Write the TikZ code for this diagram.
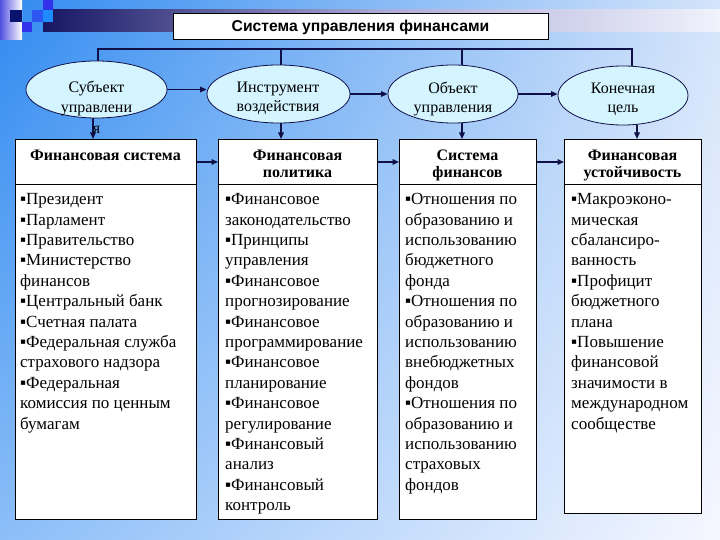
\documentclass[tikz,border=0pt]{standalone}
\usepackage{fontspec}
\setmainfont{Liberation Serif}
\newfontfamily\titlefont{Liberation Sans}
\usetikzlibrary{arrows.meta,shapes.geometric,calc,shadings}
\definecolor{navy}{RGB}{16,16,72}
\definecolor{ellfill}{RGB}{212,244,255}
\definecolor{bgUL}{RGB}{48,138,240}
\definecolor{bgUR}{RGB}{212,228,250}
\definecolor{bgLL}{RGB}{140,190,248}
\definecolor{bgLR}{RGB}{246,247,255}
\definecolor{barL}{RGB}{22,22,100}
\definecolor{barM}{RGB}{170,170,215}
\definecolor{barR}{RGB}{240,242,252}
\definecolor{sqNavy}{RGB}{10,20,110}
\definecolor{sqBlue}{RGB}{50,50,235}
\definecolor{sqBlueB}{RGB}{45,85,240}
\definecolor{sqCyan}{RGB}{30,140,255}
\definecolor{stripL}{RGB}{80,80,225}
\newcommand\firstrule[1]{\rule{0pt}{#1}}
\begin{document}
\begin{tikzpicture}[x=1bp,y=-1bp,
  conn/.style={draw=navy,line width=1.5bp},
  arr/.style={conn,-{Triangle[length=6.5bp,width=5.5bp]}},
  ell/.style={ellipse,draw=navy,fill=ellfill,line width=0.8bp,inner sep=0},
  panel/.style={draw=black,fill=white,line width=1bp,anchor=north west,inner sep=0},
  body/.style={anchor=north west,inner sep=0,align=left,font=\fontsize{17bp}{20.4bp}\selectfont},
  head/.style={anchor=north,inner sep=0,align=center,font=\bfseries\fontsize{16bp}{17.5bp}\selectfont},
  etext/.style={inner sep=0,align=center,font=\fontsize{16bp}{19bp}\selectfont},
]
% background
\shade[upper left=bgUL,upper right=bgUR,lower left=bgLL,lower right=bgLR] (0,0) rectangle (720,540);
\useasboundingbox (0,0) rectangle (720,540);
% decoration top-left
\shade[left color=stripL,right color=white] (0,0) rectangle (22,40);
\shade[left color=barL,right color=barR,middle color=barM] (43,10) rectangle (720,32);
\fill[sqNavy] (10,10) rectangle (22,22);
\fill[sqBlue] (22,22) rectangle (32,32);
\fill[sqBlueB] (32,10) rectangle (43,22);
\fill[sqBlue] (43,0) rectangle (53,10);
\fill[sqCyan] (43,10) rectangle (53,22);
% title
\node[draw=black,fill=white,line width=1bp,minimum width=375bp,minimum height=26bp,inner sep=0,
  font=\titlefont\bfseries\fontsize{15.7bp}{18bp}\selectfont] (title) at (360.5,27) {Система управления финансами};
% ellipses
\node[ell,minimum width=141bp,minimum height=57bp] (e1) at (96.5,89.5) {};
\node[ell,minimum width=143bp,minimum height=58bp] (e2) at (278.5,94) {};
\node[ell,minimum width=130bp,minimum height=58bp] (e3) at (453,94) {};
\node[ell,minimum width=130bp,minimum height=59bp] (e4) at (623,95.5) {};
% bus
\coordinate (bus) at (0,49);
\draw[conn] ([xshift=1.5bp]e1.north) -- ([xshift=1.5bp]e1.north |- bus) -- ([xshift=9bp]e4.north |- bus) -- ([xshift=9bp]e4.north);
\draw[conn] ([xshift=2.5bp]e2.north) -- ([xshift=2.5bp]e2.north |- bus);
\draw[conn] ([xshift=9bp]e3.north) -- ([xshift=9bp]e3.north |- bus);
% panels
\node[panel,minimum width=181bp,minimum height=380bp] (b1) at (15,139) {};
\node[panel,minimum width=159bp,minimum height=380bp] (b2) at (218,139) {};
\node[panel,minimum width=137bp,minimum height=380bp] (b3) at (399,139) {};
\node[panel,minimum width=137bp,minimum height=374bp] (b4) at (564,139) {};
\coordinate (div) at (0,185);
\foreach \b in {b1,b2,b3,b4} \draw[black,line width=1bp] (\b.west |- div) -- (\b.east |- div);
% arrows between ellipses
\draw[arr] (e1.east) -- (e1.east -| e2.west);
\draw[arr] (e2.east) -- (e2.east -| e3.west);
\draw[arr] (e3.east) -- (e3.east -| e4.west);
% arrows down
\draw[arr] ([xshift=-3.5bp]e1.south) -- ([xshift=-3.5bp]e1.south |- b1.north);
\draw[arr] ([xshift=2.5bp]e2.south) -- ([xshift=2.5bp]e2.south |- b2.north);
\draw[arr] ([xshift=9bp]e3.south) -- ([xshift=9bp]e3.south |- b3.north);
\draw[arr] ([xshift=14bp]e4.south) -- ([xshift=14bp]e4.south |- b4.north);
% arrows between panels
\coordinate (hy) at (0,162);
\draw[arr] (b1.east |- hy) -- (b2.west |- hy);
\draw[arr] (b2.east |- hy) -- (b3.west |- hy);
\draw[arr] (b3.east |- hy) -- (b4.west |- hy);
% ellipse texts
\node[etext,font=\fontsize{16bp}{20.7bp}\selectfont] (t1) at (96.5,107) {Субъект\\управлени\\я};
\node[etext] (t2) at (278,98.5) {Инструмент\\воздействия};
\node[etext] (t3) at (453,99) {Объект\\управления};
\node[etext] (t4) at (623,99) {Конечная\\цель};
% headers
\node[head] (h1) at (105.5,148) {\firstrule{12bp}Финансовая система};
\node[head] (h2) at (297.5,148) {\firstrule{12bp}Финансовая\\политика};
\node[head] (h3) at (467.5,148) {\firstrule{12bp}Система\\финансов};
\node[head] (h4) at (632.5,148) {\firstrule{12bp}Финансовая\\устойчивость};
% bodies
\node[body] (p1) at (20,190.5) {\firstrule{14bp}▪Президент\\▪Парламент\\▪Правительство\\▪Министерство\\финансов\\▪Центральный банк\\▪Счетная палата\\▪Федеральная служба\\страхового надзора\\▪Федеральная\\комиссия по ценным\\бумагам};
\node[body] (p2) at (225,190.5) {\firstrule{14bp}▪Финансовое\\законодательство\\▪Принципы\\управления\\▪Финансовое\\прогнозирование\\▪Финансовое\\программирование\\▪Финансовое\\планирование\\▪Финансовое\\регулирование\\▪Финансовый\\анализ\\▪Финансовый\\контроль};
\node[body] (p3) at (405,190.5) {\firstrule{14bp}▪Отношения по\\образованию и\\использованию\\бюджетного\\фонда\\▪Отношения по\\образованию и\\использованию\\внебюджетных\\фондов\\▪Отношения по\\образованию и\\использованию\\страховых\\фондов};
\node[body] (p4) at (571,190.5) {\firstrule{14bp}▪Макроэконо-\\мическая\\сбалансиро-\\ванность\\▪Профицит\\бюджетного\\плана\\▪Повышение\\финансовой\\значимости в\\международном\\сообществе};
\end{tikzpicture}
\end{document}
